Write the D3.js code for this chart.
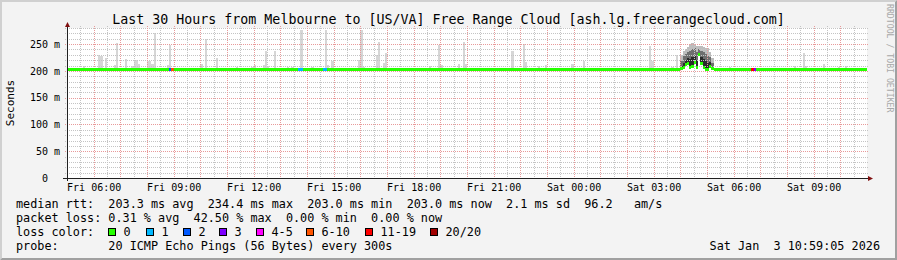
<!DOCTYPE html>
<html>
<head>
<meta charset="utf-8">
<script src="https://cdn.jsdelivr.net/npm/d3@7"></script>
<style>
  body { margin: 0; background: #f3f3f3; }
  svg { display: block; }
  text { font-family: "DejaVu Sans Mono", monospace; fill: #000; white-space: pre; }
</style>
</head>
<body>
<div id="chart"></div>
<script>
// ---- data (5 minute steps) ----
var days = { Fri: "2026-01-02", Sat: "2026-01-03" };
var startTime = "Fri 05:00", endTime = "Sat 11:00", lastStep = "Sat 10:55";

var xTickTimes = ["Fri 06:00", "Fri 09:00", "Fri 12:00", "Fri 15:00", "Fri 18:00",
                  "Fri 21:00", "Sat 00:00", "Sat 03:00", "Sat 06:00", "Sat 09:00"];
var yTickValues = [0, 50, 100, 150, 200, 250];
var yTickLabels = ["0  ", "50 m", "100 m", "150 m", "200 m", "250 m"];

// median rtt (ms), value holds from this time until the next entry
var medianTime = ["Fri 05:00", "Sat 04:00", "Sat 04:05", "Sat 04:10", "Sat 04:15", "Sat 04:20",
                  "Sat 04:25", "Sat 04:30", "Sat 04:35", "Sat 04:40", "Sat 04:45", "Sat 04:50",
                  "Sat 04:55", "Sat 05:00", "Sat 05:05", "Sat 05:10", "Sat 05:15"];
var medianValue = [203, 204, 207, 211, 214, 207, 208, 216, 206, 230, 214, 206, 203, 203, 208, 204, 203];

// lost pings out of 20
var lossTime  = ["Fri 08:50", "Fri 08:55", "Fri 13:40", "Fri 13:45", "Fri 14:35", "Fri 14:40", "Sat 06:40", "Sat 06:45"];
var lossCount = [2, 8.5, 1, 1, 1, 1, 12, 3];

// single slow pings (smoke above the median)
var spikeTime = ["Fri 05:35", "Fri 06:10", "Fri 06:15", "Fri 06:25", "Fri 06:45", "Fri 06:50", "Fri 07:10",
  "Fri 07:25", "Fri 07:30", "Fri 07:35", "Fri 07:40", "Fri 08:00", "Fri 08:05", "Fri 08:10", "Fri 08:15",
  "Fri 08:45", "Fri 08:50", "Fri 10:00", "Fri 10:10", "Fri 10:25", "Fri 10:35", "Fri 11:20", "Fri 11:55",
  "Fri 12:00", "Fri 12:20", "Fri 12:25", "Fri 12:30", "Fri 12:45", "Fri 13:15", "Fri 13:25", "Fri 13:45",
  "Fri 14:10", "Fri 14:40", "Fri 14:45", "Fri 14:55", "Fri 15:55", "Fri 16:00", "Fri 16:05", "Fri 16:35",
  "Fri 16:40", "Fri 16:50", "Fri 16:55", "Fri 17:40", "Fri 18:35", "Fri 18:55", "Fri 19:00", "Fri 19:40",
  "Fri 19:50", "Fri 19:55", "Fri 20:25", "Fri 20:45", "Fri 21:40", "Fri 22:05", "Fri 22:10", "Fri 22:40",
  "Fri 22:55", "Fri 23:10", "Fri 23:55", "Sat 00:20", "Sat 00:55", "Sat 01:55", "Sat 02:25", "Sat 02:50",
  "Sat 02:55", "Sat 03:15", "Sat 03:40", "Sat 03:50", "Sat 05:50", "Sat 06:50", "Sat 07:10", "Sat 07:25",
  "Sat 07:40", "Sat 08:15", "Sat 08:35", "Sat 08:40", "Sat 08:55", "Sat 09:20", "Sat 09:40", "Sat 09:55",
  "Sat 10:10", "Sat 10:35"];
var spikeMax = [209, 229, 227, 224, 211, 252, 222,
  210, 220, 220, 213, 218, 218, 212, 270,
  211, 248, 213, 259, 205, 224, 207, 208,
  211, 211, 238, 209, 238, 207, 207, 277,
  207, 277, 211, 219, 220, 277, 207, 229,
  254, 215, 233, 206, 210, 249, 211, 212,
  254, 213, 206, 206, 238, 251, 217, 210,
  211, 206, 213, 218, 206, 206, 206, 246,
  218, 206, 207, 230, 207, 206, 206, 206,
  206, 210, 234, 210, 206, 213, 206, 207,
  210, 206];

// the congested period: upper quartile, 90th percentile and max ping
var busyTime = ["Sat 04:00", "Sat 04:05", "Sat 04:10", "Sat 04:15", "Sat 04:20", "Sat 04:25", "Sat 04:30",
                "Sat 04:35", "Sat 04:40", "Sat 04:45", "Sat 04:50", "Sat 04:55", "Sat 05:00", "Sat 05:05", "Sat 05:10"];
var busyP75 = [210, 215, 220, 224, 222, 225, 228, 220, 234, 226, 222, 218, 214, 216, 208];
var busyP90 = [218, 228, 232, 236, 238, 240, 242, 236, 240, 238, 236, 232, 228, 226, 215];
var busyMax = [229, 238, 240, 244, 250, 252, 250, 246, 247, 246, 245, 243, 242, 236, 224];

var lossClasses = ["0", "1", "2", "3", "4-5", "6-10", "11-19", "20/20"];
var lossColors  = ["#26ff00", "#00b8ff", "#0059ff", "#7e00ff", "#ff00fe", "#ff5500", "#ff0000", "#a10000"];

var legendRows = [
  "median rtt:  203.3 ms avg  234.4 ms max  203.0 ms min  203.0 ms now  2.1 ms sd  96.2   am/s",
  "packet loss: 0.31 % avg  42.50 % max  0.00 % min  0.00 % now",
  "loss color:",
  "probe:       20 ICMP Echo Pings (56 Bytes) every 300s"
];
var stampText = "Sat Jan  3 10:59:05 2026";

// ---- layout ----
var W = 897, H = 260;
var X0 = 67, X1 = 867, Y0 = 178, Y1 = 28;
var fmt = d3.timeParse("%Y-%m-%d %H:%M");
function T(s) { return fmt(days[s.slice(0, 3)] + " " + s.slice(4)); }
function lossClass(n) {
  if (n <= 0) return 0; if (n <= 1) return 1; if (n <= 2) return 2; if (n <= 3) return 3;
  if (n <= 5) return 4; if (n <= 10) return 5; if (n < 20) return 6; return 7;
}

var x = d3.scaleTime().domain([T(startTime), T(endTime)]).range([X0, X1]);
var y = d3.scaleLinear().domain([0, 280]).range([Y0, Y1]);
var step = d3.timeMinute.every(5);

var svg = d3.select("#chart").append("svg")
    .attr("width", W).attr("height", H);

// background and 3d frame
svg.append("rect").attr("width", W).attr("height", H).attr("fill", "#f3f3f3");
svg.append("path").attr("fill", "#d0d0d0")
   .attr("d", "M0,0H" + W + "L" + (W - 2) + ",2H2V" + (H - 2) + "L0," + H + "Z");
svg.append("path").attr("fill", "#a0a0a0")
   .attr("d", "M" + W + "," + H + "H0L2," + (H - 2) + "H" + (W - 2) + "V2L" + W + ",0Z");

// canvas
svg.append("rect").attr("x", X0).attr("y", Y1).attr("width", X1 - X0).attr("height", Y0 - Y1)
   .attr("fill", "#ffffff");

// per-step median and loss
var steps = step.range(T(startTime), d3.timeMinute.offset(T(lastStep), 1));
var medT = medianTime.map(T);
function medianAt(t) { return medianValue[d3.bisectRight(medT, t) - 1]; }
var lossMap = new Map(lossTime.map(function(s, i) { return [+T(s), lossCount[i]]; }));

// smoke
var smoke = svg.append("g").attr("shape-rendering", "crispEdges");
spikeTime.forEach(function(s, i) {
  var t = T(s);
  smoke.append("rect")
    .attr("x", x(t)).attr("width", x(step.offset(t, 1)) - x(t))
    .attr("y", y(spikeMax[i])).attr("height", y(medianAt(t)) - y(spikeMax[i]))
    .attr("fill", "#d6d6d6");
});
busyTime.forEach(function(s, i) {
  var t = T(s), xa = x(t), wa = x(step.offset(t, 1)) - xa, m = medianAt(t);
  [[busyP90[i], busyMax[i], "#bdbdbd"], [busyP75[i], busyP90[i], "#6e6e6e"], [m, busyP75[i], "#2a2a2a"]]
    .forEach(function(b) {
      smoke.append("rect").attr("x", xa).attr("width", wa)
        .attr("y", y(b[1])).attr("height", y(b[0]) - y(b[1])).attr("fill", b[2]);
    });
});

// grid
var grid = svg.append("g").attr("shape-rendering", "crispEdges").attr("stroke-width", 1);
d3.range(10, 281, 10).forEach(function(v) {
  var major = v % 50 === 0, yy = Math.round(y(v)) + 0.5;
  grid.append("line").attr("x1", X0 - 2).attr("x2", X1 + 2).attr("y1", yy).attr("y2", yy)
    .attr("stroke", major ? "#e89a9a" : "#c4c4c4").attr("stroke-dasharray", "1,1");
});
d3.timeMinute.every(30).range(T(startTime), T(endTime)).forEach(function(t) {
  var major = t.getMinutes() === 0, xx = Math.round(x(t)) + 0.5;
  if (xx <= X0 + 1) return;
  grid.append("line").attr("x1", xx).attr("x2", xx).attr("y1", Y1 - 2).attr("y2", Y0 + 2)
    .attr("stroke", major ? "#e89a9a" : "#c4c4c4").attr("stroke-dasharray", "1,1");
});

// median band coloured by loss
var med = svg.append("g").attr("shape-rendering", "crispEdges");
steps.forEach(function(t) {
  var v = medianAt(t), n = lossMap.get(+t) || 0;
  med.append("rect")
    .attr("x", x(t)).attr("width", x(step.offset(t, 1)) - x(t))
    .attr("y", y(v) - 1.5).attr("height", 3)
    .attr("fill", lossColors[lossClass(n)]);
});

// axes lines and arrows
var ax = svg.append("g").attr("shape-rendering", "crispEdges");
ax.append("line").attr("x1", X0 - 4).attr("x2", X1 + 2).attr("y1", Y0 + 0.5).attr("y2", Y0 + 0.5)
  .attr("stroke", "#202020");
ax.append("line").attr("x1", X0 + 0.5).attr("x2", X0 + 0.5).attr("y1", Y0 + 3).attr("y2", Y1 - 2)
  .attr("stroke", "#202020");
svg.append("path").attr("fill", "#801010")
   .attr("d", "M" + (X1 + 1) + "," + (Y0 - 2) + "L" + (X1 + 6) + "," + (Y0 + 0.5) + "L" + (X1 + 1) + "," + (Y0 + 3) + "Z");
svg.append("path").attr("fill", "#801010")
   .attr("d", "M" + (X0 - 2) + "," + (Y1 - 1) + "L" + (X0 + 0.5) + "," + (Y1 - 6) + "L" + (X0 + 3) + "," + (Y1 - 1) + "Z");

// tick labels
var xAxis = svg.append("g").attr("transform", "translate(0," + Y0 + ")")
  .call(d3.axisBottom(x).tickValues(xTickTimes.map(T)).tickFormat(d3.timeFormat("%a %H:%M"))
        .tickSize(0).tickPadding(6));
xAxis.select(".domain").remove();
xAxis.selectAll("text").style("font-family", '"DejaVu Sans Mono", monospace').style("font-size", "10px");

var yAxis = svg.append("g").attr("transform", "translate(" + X0 + ",0)")
  .call(d3.axisLeft(y).tickValues(yTickValues).tickFormat(function(d, i) { return yTickLabels[i]; })
        .tickSize(0).tickPadding(7));
yAxis.select(".domain").remove();
yAxis.selectAll("text").style("font-family", '"DejaVu Sans Mono", monospace').style("font-size", "10px");

// title, vertical labels
svg.append("text").attr("x", 448.5).attr("y", 23.5).attr("text-anchor", "middle")
   .style("font-size", "13.3px")
   .text("Last 30 Hours from Melbourne to [US/VA] Free Range Cloud [ash.lg.freerangecloud.com]");
svg.append("text").attr("transform", "translate(14,103) rotate(-90)").attr("text-anchor", "middle")
   .style("font-size", "11px").text("Seconds");
svg.append("text").attr("transform", "translate(886.5,4) rotate(90)")
   .style("font-size", "8.2px").style("fill", "#a8a8a8").text("RRDTOOL / TOBI OETIKER");

// legend
var lg = svg.append("g").style("font-size", "11.8px");
legendRows.forEach(function(s, i) {
  lg.append("text").attr("xml:space", "preserve").attr("x", 16).attr("y", 208 + i * 14).text(s);
});
var boxX = [108, 146, 183, 219, 256, 306, 365, 430];
lossClasses.forEach(function(c, i) {
  lg.append("rect").attr("x", boxX[i] + 0.5).attr("y", 228.5).attr("width", 7).attr("height", 7)
    .attr("fill", lossColors[i]).attr("stroke", "#000").attr("shape-rendering", "crispEdges");
  lg.append("text").attr("x", boxX[i] + 15.5).attr("y", 236).text(c);
});
lg.append("text").attr("xml:space", "preserve").attr("x", 880).attr("y", 250)
  .attr("text-anchor", "end").text(stampText);
</script>
</body>
</html>
